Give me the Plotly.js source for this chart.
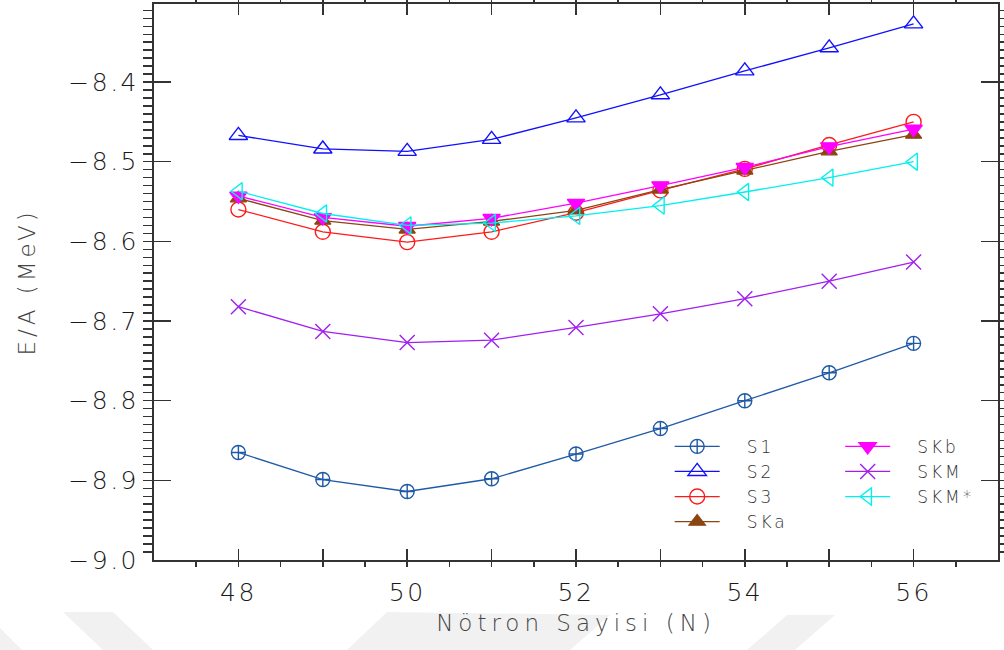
<!DOCTYPE html>
<html>
<head>
<meta charset="utf-8">
<script src="https://cdn.plot.ly/plotly-3.0.1.min.js"></script>
<style>
  html, body { margin: 0; padding: 0; background: #ffffff; }
  #chart { width: 1004px; height: 650px; }
  /* wide, airy lettering for the axes and legends */
  #chart .xtick text, #chart .ytick text { letter-spacing: 2.5px; }
  #chart text.xtitle { letter-spacing: 5px; }
  #chart text.ytitle { letter-spacing: 4px; }
  #chart text.legendtext, #chart text.legend2text { letter-spacing: 3px; }
</style>
</head>
<body>
<div id="chart"></div>
<script>
// Binding energy per nucleon vs. neutron number for several Skyrme forces
const neutronNumber = [48, 49, 50, 51, 52, 53, 54, 55, 56];

const s1      = [-8.865, -8.899, -8.914, -8.898, -8.867, -8.835, -8.800, -8.765, -8.728];
const s2      = [-8.467, -8.484, -8.487, -8.472, -8.445, -8.416, -8.386, -8.357, -8.327];
const s3      = [-8.560, -8.588, -8.601, -8.588, -8.564, -8.536, -8.509, -8.479, -8.450];
const ska     = [-8.546, -8.574, -8.585, -8.575, -8.561, -8.535, -8.511, -8.487, -8.466];
const skb     = [-8.543, -8.570, -8.581, -8.571, -8.552, -8.530, -8.507, -8.481, -8.459];
const skm     = [-8.682, -8.713, -8.727, -8.724, -8.708, -8.691, -8.672, -8.650, -8.626];
const skmStar = [-8.537, -8.565, -8.580, -8.577, -8.568, -8.555, -8.538, -8.520, -8.500];

const seriesNames = ['S1', 'S2', 'S3', 'SKa', 'SKb', 'SKM', 'SKM*'];

const xTickVals = [47, 48, 49, 50, 51, 52, 53, 54, 55, 56, 57];
const xTickText = ['', '48', '', '50', '', '52', '', '54', '', '56', ''];

const xTitle = 'Nötron Sayisi (N)';
const yTitle = 'E/A (MeV)';

const FONT = "'DejaVu Sans', 'Liberation Sans', sans-serif";

function series(name, y, color, symbol, size, legend) {
  return {
    type: 'scatter',
    mode: 'lines+markers',
    name: name,
    x: neutronNumber,
    y: y,
    legend: legend,
    line: { color: color, width: 1.3 },
    marker: { symbol: symbol, size: size, color: color, line: { color: color, width: 1.4 } }
  };
}

const traces = [
  series(seriesNames[0], s1,      '#1f5aa6', 'circle-cross-open',  14, 'legend'),
  series(seriesNames[1], s2,      '#1010ff', 'triangle-up-open',   16, 'legend'),
  series(seriesNames[2], s3,      '#ff1a1a', 'circle-open',        15, 'legend'),
  series(seriesNames[3], ska,     '#8b4513', 'triangle-up',        14, 'legend'),
  series(seriesNames[4], skb,     '#ff00ff', 'triangle-down',      15, 'legend2'),
  series(seriesNames[5], skm,     '#a020f0', 'x-thin-open',        15, 'legend2'),
  series(seriesNames[6], skmStar, '#00f0f0', 'triangle-left-open', 15, 'legend2')
];

// faint background watermark bands (pixel outline -> paper coordinates)
const PL = 154, PR = 998, PT = 4, PB = 560;
function toPaper(pts) {
  return pts.map((p, i) => {
    const x = (p[0] - PL) / (PR - PL);
    const y = (PB - p[1]) / (PB - PT);
    return (i === 0 ? 'M' : 'L') + x.toFixed(4) + ',' + y.toFixed(4);
  }).join(' ') + ' Z';
}
const bands = [
  [[63, 612], [113, 612], [153, 650], [103, 650]],
  [[0, 628], [22, 650], [0, 650]],
  [[387, 612], [610, 615], [570, 650], [347, 650]],
  [[787, 615], [835, 615], [795, 650], [747, 650]]
];
const shapes = bands.map(b => ({
  type: 'path', xref: 'paper', yref: 'paper', layer: 'below',
  path: toPaper(b), fillcolor: '#f1f1f1', line: { width: 0 }
}));

const axisCommon = {
  showgrid: false, zeroline: false,
  showline: true, linecolor: '#333333', linewidth: 2,
  mirror: 'allticks', ticks: 'inside', tickcolor: '#333333', tickwidth: 1.5,
  tickfont: { family: FONT, size: 25, color: '#1a1a1a', weight: 200 }
};

const legendFont = { family: FONT, size: 17, color: '#333333', weight: 200 };

const layout = {
  width: 1004, height: 650,
  margin: { l: PL, r: 1004 - PR, t: PT, b: 650 - PB, pad: 0 },
  paper_bgcolor: '#ffffff', plot_bgcolor: 'rgba(0,0,0,0)',
  font: { family: FONT, color: '#333333' },
  showlegend: true,
  xaxis: Object.assign({}, axisCommon, {
    range: [47, 57],
    tickmode: 'array', tickvals: xTickVals, ticktext: xTickText,
    ticklen: 11, ticklabelstandoff: 9,
    minor: { tickmode: 'linear', tick0: 47.5, dtick: 0.5, ticklen: 5, tickcolor: '#333333', tickwidth: 1.5 },
    title: { text: xTitle, standoff: 9, font: { family: FONT, size: 23, color: '#444444', weight: 200 } }
  }),
  yaxis: Object.assign({}, axisCommon, {
    range: [-9.0, -8.302],
    tickmode: 'linear', tick0: -9.0, dtick: 0.1, tickformat: '.1f',
    ticklen: 17, ticklabelstandoff: 8,
    minor: { tickmode: 'linear', dtick: 0.01, ticklen: 9, tickcolor: '#333333', tickwidth: 1.5 },
    title: { text: yTitle, standoff: 36, font: { family: FONT, size: 23, color: '#444444', weight: 200 } }
  }),
  legend: {
    x: 0.611, y: 0.236, xanchor: 'left', yanchor: 'top',
    bgcolor: 'rgba(0,0,0,0)', borderwidth: 0, itemwidth: 45,
    font: legendFont, traceorder: 'normal'
  },
  legend2: {
    x: 0.813, y: 0.236, xanchor: 'left', yanchor: 'top',
    bgcolor: 'rgba(0,0,0,0)', borderwidth: 0, itemwidth: 45,
    font: legendFont, traceorder: 'normal'
  },
  shapes: shapes
};

const gd = document.getElementById('chart');
Plotly.newPlot(gd, traces, layout, { displayModeBar: false, staticPlot: true }).then(() => {
  // leave a wider gap between each legend sample and its label
  gd.querySelectorAll('text.legendtext, text.legend2text').forEach(t => {
    const x = parseFloat(t.getAttribute('x')) || 0;
    t.setAttribute('x', x + 22);
  });
  gd.querySelectorAll('.scrollbox').forEach(el => el.removeAttribute('clip-path'));
});
</script>
</body>
</html>
